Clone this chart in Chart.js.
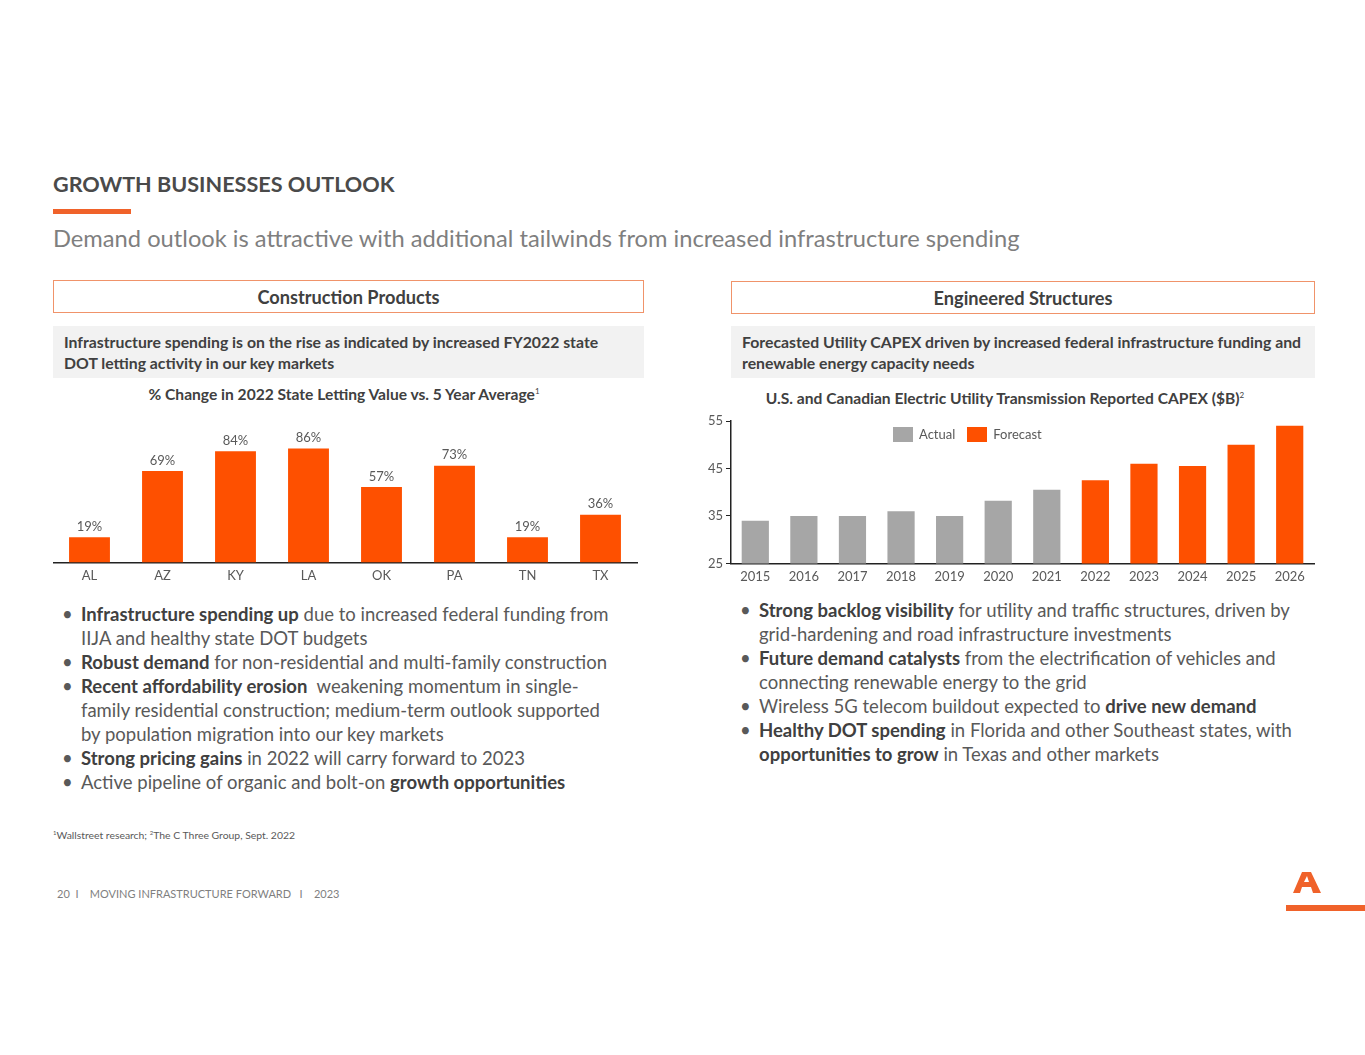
<!DOCTYPE html>
<html>
<head>
<meta charset="utf-8">
<script src="https://cdn.jsdelivr.net/npm/chart.js@4.4.0/dist/chart.umd.min.js"></script>
<style>
  body { margin: 0; background: #fff; font-family: Lato, "Open Sans", sans-serif; color: #595959; }
  .page { position: relative; width: 1365px; height: 1055px; overflow: hidden; }
  .abs { position: absolute; white-space: nowrap; }
  .title { left: 53px; top: 171px; font-size: 21.6px; font-weight: bold; color: #4a4a4a; }
  .rule { left: 53px; top: 209px; width: 78px; height: 5px; background: #f0622a; }
  .sub { left: 53px; top: 224px; font-size: 23.7px; color: #7f7f7f; }
  .head { height: 33px; border: 1px solid #f0936a; text-align: center; font-weight: bold; font-size: 18.2px; color: #404040; line-height: 32px; box-sizing: border-box; }
  .grey { height: 52px; background: #f2f2f2; font-weight: bold; font-size: 15.8px; color: #404040; line-height: 21px; padding: 5px 11px; box-sizing: border-box; }
  .ctitle { font-weight: bold; font-size: 15.6px; color: #404040; text-align: center; }
  .ctitle sup { font-size: 8px; font-weight: normal; }
  .bul { font-size: 18.5px; line-height: 24px; color: #595959; }
  .bul b { color: #404040; }
  .bul .dot { position: absolute; left: -19px; }
  .foot { font-size: 10.4px; color: #595959; }
  .foot sup { font-size: 6px; }
  .page-no { font-size: 11px; color: #7f7f7f; }
  .leg { font-size: 13px; color: #595959; }
  .sw { display: inline-block; width: 20px; height: 15px; vertical-align: -3px; margin-right: 6px; }
</style>
</head>
<body>
<div class="page">
  <div class="abs title">GROWTH BUSINESSES OUTLOOK</div>
  <div class="abs rule"></div>
  <div class="abs sub">Demand outlook is attractive with additional tailwinds from increased infrastructure spending</div>

  <div class="abs head" style="left:53px;top:280px;width:591px;">Construction Products</div>
  <div class="abs grey" style="left:53px;top:326px;width:591px;">Infrastructure spending is on the rise as indicated by increased FY2022 state<br>DOT letting activity in our key markets</div>
  <div class="abs ctitle" style="left:53px;top:385px;width:582px;">% Change in 2022 State Letting Value vs. 5 Year Average<sup>1</sup></div>

  <div class="abs head" style="left:731px;top:281px;width:584px;">Engineered Structures</div>
  <div class="abs grey" style="left:731px;top:326px;width:584px;">Forecasted Utility CAPEX driven by increased federal infrastructure funding and<br>renewable energy capacity needs</div>
  <div class="abs ctitle" style="left:731px;top:389px;width:548px;">U.S. and Canadian Electric Utility Transmission Reported CAPEX ($B)<sup>2</sup></div>

  <div class="abs" style="left:53px;top:400px;width:590px;height:194px;"><canvas id="stateChart"></canvas></div>
  <div class="abs" style="left:691px;top:405px;width:625px;height:190px;"><canvas id="capexChart"></canvas></div>
  <div class="abs leg" style="left:893px;top:426px;"><span class="sw" style="background:#a6a6a6"></span>Actual<span class="sw" style="background:#fe5000;margin-left:12px"></span>Forecast</div>

  <div class="abs bul" style="left:81px;top:602px;">
    <div style="position:relative"><span class="dot">•</span><b>Infrastructure spending up</b> due to increased federal funding from</div>
    <div>IIJA and healthy state DOT budgets</div>
    <div style="position:relative"><span class="dot">•</span><b>Robust demand</b> for non-residential and multi-family construction</div>
    <div style="position:relative"><span class="dot">•</span><b>Recent affordability erosion</b>&nbsp; weakening momentum in single-</div>
    <div>family residential construction; medium-term outlook supported</div>
    <div>by population migration into our key markets</div>
    <div style="position:relative"><span class="dot">•</span><b>Strong pricing gains</b> in 2022 will carry forward to 2023</div>
    <div style="position:relative"><span class="dot">•</span>Active pipeline of organic and bolt-on <b>growth opportunities</b></div>
  </div>

  <div class="abs bul" style="left:759px;top:598px;">
    <div style="position:relative"><span class="dot">•</span><b>Strong backlog visibility</b> for utility and traffic structures, driven by</div>
    <div>grid-hardening and road infrastructure investments</div>
    <div style="position:relative"><span class="dot">•</span><b>Future demand catalysts</b> from the electrification of vehicles and</div>
    <div>connecting renewable energy to the grid</div>
    <div style="position:relative"><span class="dot">•</span>Wireless 5G telecom buildout expected to <b>drive new demand</b></div>
    <div style="position:relative"><span class="dot">•</span><b>Healthy DOT spending</b> in Florida and other Southeast states, with</div>
    <div><b>opportunities to grow</b> in Texas and other markets</div>
  </div>

  <div class="abs foot" style="left:53px;top:829px;"><sup>1</sup>Wallstreet research; <sup>2</sup>The C Three Group, Sept. 2022</div>
  <div class="abs page-no" style="left:57px;top:887px;">20&nbsp; I &nbsp;&nbsp; MOVING INFRASTRUCTURE FORWARD &nbsp; I &nbsp;&nbsp; 2023</div>

  <svg class="abs" style="left:1280px;top:868px;" width="85" height="45">
    <polygon points="13,25 22,4 31,4 41,25 33,25 31,19 22,19 20,25" fill="#f0622a"/>
    <polygon points="24,14 27,8 29,14" fill="#fff"/>
    <rect x="6" y="37" width="79" height="6" fill="#f0622a"/>
  </svg>
</div>

<script>
const STATE_CHART = document.getElementById('stateChart');
const CAPEX_CHART = document.getElementById('capexChart');

// left chart data
var states = ['AL', 'AZ', 'KY', 'LA', 'OK', 'PA', 'TN', 'TX'];
var stateChange = [19, 69, 84, 86, 57, 73, 19, 36];

// right chart data
var years = ['2015', '2016', '2017', '2018', '2019', '2020', '2021', '2022', '2023', '2024', '2025', '2026'];
var actualCapex = [34, 35, 35, 36, 35, 38.2, 40.5, null, null, null, null, null];
var forecastCapex = [null, null, null, null, null, null, null, 42.5, 46, 45.5, 50, 54];
var capexTicks = [25, 35, 45, 55];

var ORANGE = '#fe5000';
var GREY = '#a6a6a6';
var TEXT = '#595959';
var FONT = 'Lato, "Open Sans", sans-serif';

// draws the "19%" style labels above each bar
var pctLabels = {
  id: 'pctLabels',
  afterDatasetsDraw: function(chart) {
    var ctx = chart.ctx;
    var meta = chart.getDatasetMeta(0);
    ctx.save();
    ctx.font = '13px ' + FONT;
    ctx.fillStyle = TEXT;
    ctx.textAlign = 'center';
    ctx.textBaseline = 'bottom';
    meta.data.forEach(function(bar, i) {
      ctx.fillText(chart.data.datasets[0].data[i] + '%', bar.x, bar.y - 4);
    });
    ctx.restore();
  }
};

var stateChart = new Chart(STATE_CHART, {
  type: 'bar',
  data: {
    labels: states,
    datasets: [{
      data: stateChange,
      backgroundColor: ORANGE,
      categoryPercentage: 0.8,
      barPercentage: 0.7
    }]
  },
  options: {
    responsive: true,
    maintainAspectRatio: false,
    animation: false,
    layout: { padding: { top: 30, right: 6, left: 0, bottom: 4 } },
    plugins: { legend: { display: false }, tooltip: { enabled: false } },
    scales: {
      x: {
        grid: { display: false, drawTicks: false },
        border: { display: true, color: '#222', width: 1.5 },
        ticks: { color: TEXT, font: { family: FONT, size: 13 }, padding: 6 }
      },
      y: { display: false, min: 0, max: 100 }
    }
  },
  plugins: [pctLabels]
});

var capexChart = new Chart(CAPEX_CHART, {
  type: 'bar',
  data: {
    labels: years,
    datasets: [
      { label: 'Actual', data: actualCapex, backgroundColor: GREY, categoryPercentage: 0.8, barPercentage: 0.7 },
      { label: 'Forecast', data: forecastCapex, backgroundColor: ORANGE, categoryPercentage: 0.8, barPercentage: 0.7 }
    ]
  },
  options: {
    responsive: true,
    maintainAspectRatio: false,
    animation: false,
    layout: { padding: { top: 16, right: 2, left: 0, bottom: 4 } },
    plugins: { legend: { display: false }, tooltip: { enabled: false } },
    scales: {
      x: {
        stacked: true,
        grid: { display: false, drawTicks: false },
        border: { display: true, color: '#222', width: 1.5 },
        ticks: { color: TEXT, font: { family: FONT, size: 13 }, padding: 6 }
      },
      y: {
        min: 25,
        max: 55,
        afterBuildTicks: function(scale) {
          scale.ticks = capexTicks.map(function(v) { return { value: v }; });
        },
        afterFit: function(scale) { scale.width = 40; },
        grid: { drawOnChartArea: false, drawTicks: true, tickLength: 5, color: '#222' },
        border: { display: true, color: '#222', width: 1.5 },
        ticks: { color: TEXT, font: { family: FONT, size: 13 }, padding: 3 }
      }
    }
  }
});
</script>
</body>
</html>
